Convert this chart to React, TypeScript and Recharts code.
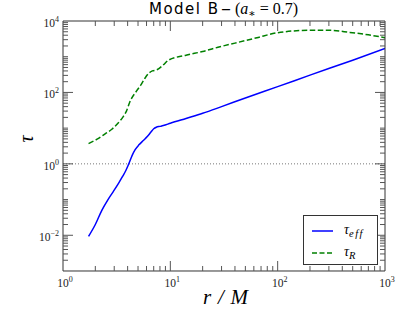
import React from 'react';
import { ComposedChart, Line, Scatter, XAxis, YAxis, ReferenceLine } from 'recharts';

// tau_eff (blue, solid)
const rEff = [1.73, 2.0, 2.3, 2.6, 2.95, 3.3, 3.6, 3.85, 4.1, 4.4, 4.7, 5.1, 5.6, 6.1, 6.6, 7.0, 7.4, 8.0, 8.6, 10, 14, 20, 30, 50, 100, 200, 500, 1000];
const tauEff = [0.0093, 0.02, 0.05, 0.095, 0.17, 0.29, 0.45, 0.65, 1.0, 1.7, 2.5, 3.4, 4.5, 5.8, 7.8, 9.6, 10.6, 11.2, 11.8, 13.7, 18.7, 26, 40, 70, 145, 305, 800, 1700];

// tau_R (green, dashed)
const rR = [1.73, 2.1, 2.45, 2.85, 3.25, 3.6, 3.9, 4.2, 4.85, 5.3, 5.8, 6.4, 6.8, 7.5, 8.6, 9.6, 14, 20, 29, 40, 64, 100, 200, 300, 470, 700, 1000];
const tauR = [3.7, 5.0, 6.8, 9.3, 13.7, 20, 30, 55, 110, 160, 250, 360, 400, 430, 590, 800, 1100, 1400, 1900, 2400, 3400, 4700, 5500, 5500, 4800, 4100, 3400];

// axes
const X_MIN = 1;
const X_MAX = 1000;
const Y_MIN = 0.001;
const Y_MAX = 10000;
const xMajorTicks = [1, 10, 100, 1000];
const xInnerMajor = [10, 100];
const xMinorTicks = [2, 3, 4, 5, 6, 7, 8, 9, 20, 30, 40, 50, 60, 70, 80, 90, 200, 300, 400, 500, 600, 700, 800, 900];
const yMajorTicks = [0.01, 1, 100, 10000];
const yInnerMajor = [0.01, 1, 100];
const yMinorTicks = [
  0.002, 0.003, 0.004, 0.005, 0.006, 0.007, 0.008, 0.009,
  0.02, 0.03, 0.04, 0.05, 0.06, 0.07, 0.08, 0.09, 0.1,
  0.2, 0.3, 0.4, 0.5, 0.6, 0.7, 0.8, 0.9,
  2, 3, 4, 5, 6, 7, 8, 9, 10,
  20, 30, 40, 50, 60, 70, 80, 90,
  200, 300, 400, 500, 600, 700, 800, 900, 1000,
  2000, 3000, 4000, 5000, 6000, 7000, 8000, 9000,
];

const effData = rEff.map((r, i) => ({ r, v: tauEff[i] }));
const rData = rR.map((r, i) => ({ r, v: tauR[i] }));

// tick-mark anchor points on the frame edges
const bottomMinorPts = xMinorTicks.map((r) => ({ r, v: Y_MIN }));
const bottomMajorPts = xInnerMajor.map((r) => ({ r, v: Y_MIN }));
const topMinorPts = xMinorTicks.map((r) => ({ r, v: Y_MAX }));
const topMajorPts = xInnerMajor.map((r) => ({ r, v: Y_MAX }));
const leftMinorPts = yMinorTicks.map((v) => ({ r: X_MIN, v }));
const leftMajorPts = yInnerMajor.map((v) => ({ r: X_MIN, v }));
const rightMinorPts = yMinorTicks.map((v) => ({ r: X_MAX, v }));
const rightMajorPts = yInnerMajor.map((v) => ({ r: X_MAX, v }));

const SERIF = '"Liberation Serif", "DejaVu Serif", serif';
const SANS = '"DejaVu Sans", "Liberation Sans", sans-serif';
const AXIS = '#333';
const TICK = '#555';
const THIN = 0.01;

const expOf = (v: number) => {
  const e = Math.round(Math.log10(v));
  return e < 0 ? '\u2212' + Math.abs(e) : String(e);
};

function drawTick(p: any, dx: number, dy: number) {
  if (p.cx == null || p.cy == null) return <g />;
  return <line x1={p.cx} y1={p.cy} x2={p.cx + dx} y2={p.cy + dy} stroke={TICK} strokeWidth={1} />;
}
function shapeBottomMinor(p: any) { return drawTick(p, 0, -5); }
function shapeBottomMajor(p: any) { return drawTick(p, 0, -10); }
function shapeTopMinor(p: any) { return drawTick(p, 0, 5); }
function shapeTopMajor(p: any) { return drawTick(p, 0, 10); }
function shapeLeftMinor(p: any) { return drawTick(p, 5, 0); }
function shapeLeftMajor(p: any) { return drawTick(p, 10, 0); }
function shapeRightMinor(p: any) { return drawTick(p, -5, 0); }
function shapeRightMajor(p: any) { return drawTick(p, -10, 0); }

const EmptyTick = () => <g />;

const XTick = (props: any) => {
  const { x, y, payload } = props;
  return (
    <text x={x + 2} y={y} textAnchor="middle" fontFamily={SERIF} fontSize={11.5} fill="#222">
      <tspan>10</tspan>
      <tspan dy={-5} fontSize={8}>{expOf(payload.value)}</tspan>
    </text>
  );
};

const YTick = (props: any) => {
  const { x, y, payload } = props;
  return (
    <text x={x} y={y + 6} textAnchor="end" fontFamily={SERIF} fontSize={11.5} fill="#222">
      <tspan>10</tspan>
      <tspan dy={-5} fontSize={8}>{expOf(payload.value)}</tspan>
    </text>
  );
};

const xCommon = { type: 'number' as const, dataKey: 'r', scale: 'log' as const, domain: [X_MIN, X_MAX], allowDataOverflow: true, interval: 0 as const, height: THIN };
const yCommon = { type: 'number' as const, dataKey: 'v', scale: 'log' as const, domain: [Y_MIN, Y_MAX], allowDataOverflow: true, interval: 0 as const, width: THIN };

const Overlay = () => (
  <svg width={415} height={313} style={{ position: 'absolute', left: 0, top: 0, pointerEvents: 'none' }}>
    <g fill="#000">
      <text x={149} y={14} fontFamily={SANS} fontSize={15} textLength={69} lengthAdjust="spacing">Model B</text>
      <text x={221} y={14} fontFamily={SANS} fontSize={15} textLength={10} lengthAdjust="spacingAndGlyphs">–</text>
      <text x={235} y={14} fontFamily={SERIF} fontSize={16}>
        <tspan>(</tspan>
        <tspan fontStyle="italic">a</tspan>
        <tspan fontSize={11} dy={3}>∗</tspan>
        <tspan dy={-3}> = 0.7)</tspan>
      </text>
    </g>
    <text x={203} y={304} fontFamily={SERIF} fontStyle="italic" fontSize={21} fill="#000" textLength={45} lengthAdjust="spacing">
      r/M
    </text>
    <text x={28} y={139} transform="rotate(-90 28 139)" textAnchor="middle" dominantBaseline="middle" fontFamily={SERIF} fontStyle="italic" fontSize={20} fill="#000">
      τ
    </text>
    <rect x={303.5} y={215.5} width={74} height={49} fill="#fff" stroke="#333" strokeWidth={1} />
    <line x1={312} y1={231} x2={333} y2={231} stroke="#0000ff" strokeWidth={1.5} />
    <text x={344} y={234} fontFamily={SERIF} fontStyle="italic" fontSize={14} fill="#000">
      τ<tspan dy={3} fontSize={10.5} letterSpacing={1.5}>eff</tspan>
    </text>
    <line x1={312} y1={253} x2={333} y2={253} stroke="#008000" strokeWidth={1.5} strokeDasharray="5 2.5" />
    <text x={344} y={256} fontFamily={SERIF} fontStyle="italic" fontSize={14} fill="#000">
      τ<tspan dy={3} fontSize={10.5}>R</tspan>
    </text>
  </svg>
);

export default function App() {
  return (
    <div style={{ position: 'absolute', left: 0, top: 0, width: 415, height: 313, background: '#fff' }}>
      <ComposedChart width={415} height={313} margin={{ top: 21, right: 30, bottom: 42, left: 63 }}>
        <XAxis xAxisId="x" {...xCommon} ticks={xMajorTicks} tickLine={false} tickSize={0} tickMargin={16}
          stroke={AXIS} tick={<XTick />} />
        <YAxis yAxisId="y" {...yCommon} ticks={yMajorTicks} tickLine={false} tickSize={0} tickMargin={4}
          stroke={AXIS} tick={<YTick />} />
        <YAxis yAxisId="yr" orientation="right" {...yCommon} mirror ticks={yMajorTicks} tickLine={false}
          stroke={AXIS} tick={<EmptyTick />} />

        <ReferenceLine xAxisId="x" yAxisId="y" y={Y_MAX} stroke={AXIS} strokeWidth={1} ifOverflow="visible" />
        <ReferenceLine xAxisId="x" yAxisId="y" y={1} stroke="#777" strokeDasharray="1 2" strokeWidth={1} />

        <Scatter xAxisId="x" yAxisId="y" data={bottomMinorPts} dataKey="v" isAnimationActive={false} shape={shapeBottomMinor} />
        <Scatter xAxisId="x" yAxisId="y" data={bottomMajorPts} dataKey="v" isAnimationActive={false} shape={shapeBottomMajor} />
        <Scatter xAxisId="x" yAxisId="y" data={topMinorPts} dataKey="v" isAnimationActive={false} shape={shapeTopMinor} />
        <Scatter xAxisId="x" yAxisId="y" data={topMajorPts} dataKey="v" isAnimationActive={false} shape={shapeTopMajor} />
        <Scatter xAxisId="x" yAxisId="y" data={leftMinorPts} dataKey="v" isAnimationActive={false} shape={shapeLeftMinor} />
        <Scatter xAxisId="x" yAxisId="y" data={leftMajorPts} dataKey="v" isAnimationActive={false} shape={shapeLeftMajor} />
        <Scatter xAxisId="x" yAxisId="y" data={rightMinorPts} dataKey="v" isAnimationActive={false} shape={shapeRightMinor} />
        <Scatter xAxisId="x" yAxisId="y" data={rightMajorPts} dataKey="v" isAnimationActive={false} shape={shapeRightMajor} />

        <Line xAxisId="x" yAxisId="y" data={effData} dataKey="v" type="monotone" stroke="#0000ff" strokeWidth={1.5}
          dot={false} isAnimationActive={false} />
        <Line xAxisId="x" yAxisId="yr" data={effData} dataKey="v" type="monotone" stroke="none"
          dot={false} isAnimationActive={false} />
        <Line xAxisId="x" yAxisId="y" data={rData} dataKey="v" type="monotone" stroke="#008000" strokeWidth={1.5}
          strokeDasharray="5.5 2.5" dot={false} isAnimationActive={false} />
      </ComposedChart>
      <Overlay />
    </div>
  );
}
